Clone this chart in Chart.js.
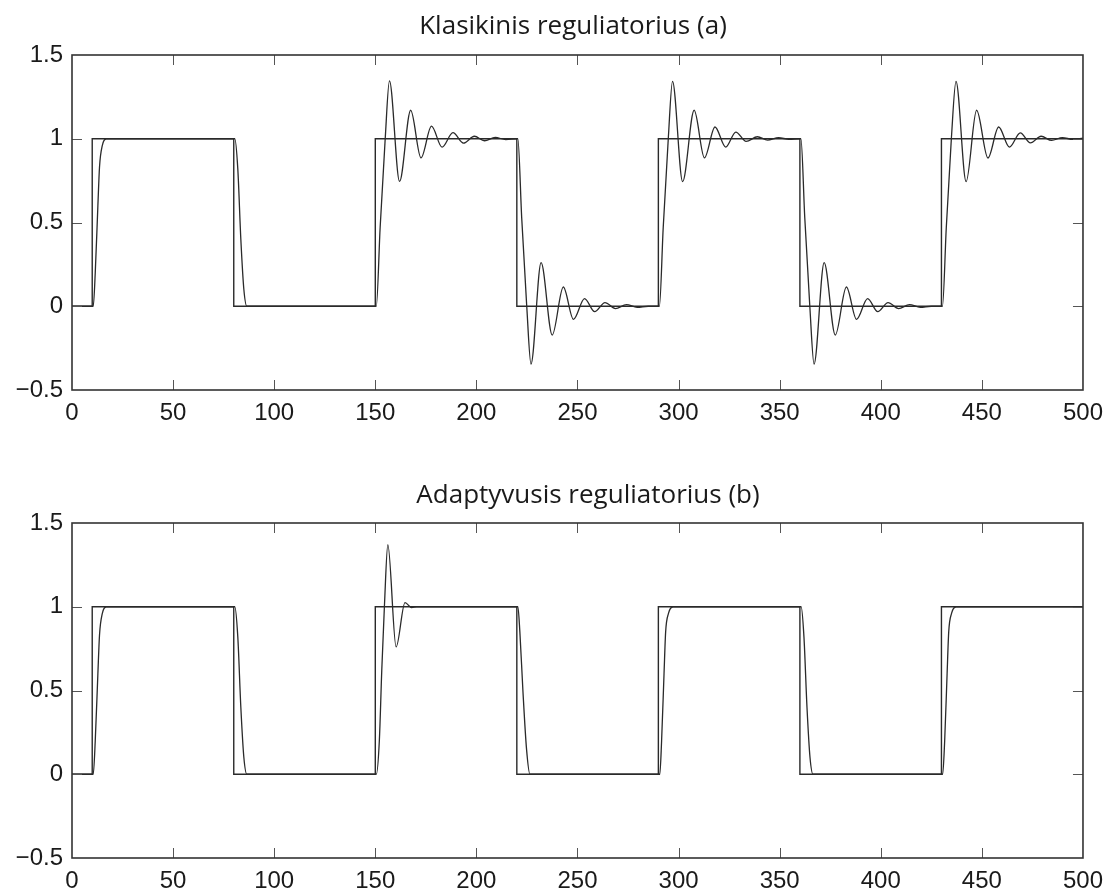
<!DOCTYPE html>
<html>
<head>
<meta charset="utf-8">
<script src="https://cdn.jsdelivr.net/npm/chart.js@4.4.0/dist/chart.umd.min.js"></script>
<style>
  body { margin: 0; background: #fff; }
  canvas { position: absolute; left: 0; }
  #chartA { top: 0; }
  #chartB { top: 445px; }
</style>
</head>
<body>
<canvas id="chartA" width="1112" height="445"></canvas>
<canvas id="chartB" width="1112" height="446"></canvas>
<script>
// reference (setpoint) square wave: switch times and level after each switch
const stepTimes = [0, 10, 80, 150, 220, 290, 360, 430, 500];
const stepLevels = [0, 1, 0, 1, 0, 1, 0, 1, 1];

// classic controller response (a)
const classicT = [
  0, 10.5, 11.5, 12.8, 13.6, 15, 17, 80.5,
  82, 83.5, 85, 86.5, 150.5,
  152.4, 154.9, 157, 162, 167.5, 172.6, 177.8, 183, 188.4, 193.6, 199, 204, 209.3, 214.5, 220.5,
  222.4, 224.9, 227, 232, 237.5, 243, 248, 253.5, 258.5, 263.6, 268.8, 274.2, 279.5, 285, 290.5,
  292.4, 294.9, 297, 302, 307.7, 312.8, 318, 323.3, 328.3, 333.4, 339, 344, 349.5, 354.5, 360.5,
  362.4, 364.9, 367, 372, 377.5, 383, 388, 393.5, 398.5, 403.6, 408.8, 414.2, 419.5, 425, 430.5,
  432.4, 434.9, 437.2, 442.2, 447.4, 453, 458.3, 463.6, 469, 474, 479.3, 484.5, 489.8, 495, 500
];
const classicY = [
  0, 0, 0.2, 0.6, 0.83, 0.96, 1, 1,
  0.82, 0.4, 0.1, 0, 0,
  0.47, 1.0, 1.345, 0.745, 1.17, 0.886, 1.075, 0.95, 1.036, 0.974, 1.015, 0.988, 1.008, 0.995, 1,
  0.53, 0, -0.345, 0.26, -0.172, 0.115, -0.078, 0.046, -0.032, 0.022, -0.014, 0.01, -0.006, 0, 0,
  0.47, 1.0, 1.343, 0.744, 1.17, 0.886, 1.07, 0.95, 1.04, 0.984, 1.012, 0.992, 1.006, 0.997, 1,
  0.53, 0, -0.345, 0.26, -0.172, 0.115, -0.078, 0.046, -0.032, 0.022, -0.014, 0.01, -0.006, 0, 0,
  0.47, 1.0, 1.343, 0.744, 1.17, 0.885, 1.07, 0.95, 1.035, 0.975, 1.015, 0.99, 1.007, 0.996, 1.003
];

// adaptive controller response (b)
const adaptiveT = [
  0, 10.5, 11.5, 12.8, 13.6, 15, 17, 80.5,
  82, 83.5, 85, 86.5, 150.5,
  152, 153.2, 154.5, 156.2, 160.3, 164.7, 168, 170.5, 220.5,
  221.5, 223, 224.8, 226.5, 290.7,
  291.6, 292.8, 293.6, 295, 297.3, 360.6,
  362, 363.5, 365, 366.5, 430.6,
  431.6, 432.8, 433.6, 435, 437.3, 500
];
const adaptiveY = [
  0, 0, 0.2, 0.6, 0.83, 0.96, 1, 1,
  0.82, 0.4, 0.1, 0, 0,
  0.2, 0.62, 1.0, 1.37, 0.76, 1.025, 0.995, 1, 1,
  0.85, 0.5, 0.15, 0, 0,
  0.2, 0.6, 0.85, 0.96, 1, 1,
  0.82, 0.4, 0.1, 0, 0,
  0.2, 0.6, 0.85, 0.96, 1, 1
];

const xTicks = [0, 50, 100, 150, 200, 250, 300, 350, 400, 450, 500];
const yTicks = [-0.5, 0, 0.5, 1, 1.5];

function toPoints(xs, ys) {
  return xs.map((x, i) => ({ x: x, y: ys[i] }));
}

// matlab style box with ticks pointing inward + title
const boxPlugin = {
  id: 'box',
  afterDraw(chart, args, opts) {
    const ctx = chart.ctx;
    const a = chart.chartArea;
    const sx = chart.scales.x;
    const sy = chart.scales.y;
    const len = 10;
    ctx.save();
    ctx.strokeStyle = '#555';
    ctx.lineWidth = 1;
    ctx.beginPath();
    xTicks.forEach(v => {
      const px = Math.round(sx.getPixelForValue(v)) + 0.5;
      if (v === xTicks[0] || v === xTicks[xTicks.length - 1]) return;
      ctx.moveTo(px, a.bottom); ctx.lineTo(px, a.bottom - len);
      ctx.moveTo(px, a.top); ctx.lineTo(px, a.top + len);
    });
    yTicks.forEach(v => {
      const py = Math.round(sy.getPixelForValue(v)) + 0.5;
      if (v === yTicks[0] || v === yTicks[yTicks.length - 1]) return;
      ctx.moveTo(a.left, py); ctx.lineTo(a.left + len, py);
      ctx.moveTo(a.right, py); ctx.lineTo(a.right - len, py);
    });
    ctx.stroke();

    ctx.strokeStyle = '#333';
    ctx.lineWidth = 1.6;
    ctx.strokeRect(a.left, a.top, a.right - a.left, a.bottom - a.top);

    ctx.fillStyle = '#1a1a1a';
    ctx.font = '26px "Open Sans"';
    ctx.textAlign = 'center';
    ctx.textBaseline = 'middle';
    ctx.fillText(opts.text, opts.x, opts.y);
    ctx.restore();
  }
};

function makeChart(id, respT, respY, title, topPad, xHeight, titleX, titleY) {
  const ctx = document.getElementById(id).getContext('2d');
  return new Chart(ctx, {
    type: 'line',
    data: {
      datasets: [
        {
          data: toPoints(stepTimes, stepLevels),
          stepped: 'before',
          borderColor: '#2a2a2a',
          borderWidth: 1.4,
          pointRadius: 0,
          fill: false
        },
        {
          data: toPoints(respT, respY),
          cubicInterpolationMode: 'monotone',
          borderColor: '#2a2a2a',
          borderWidth: 1.3,
          pointRadius: 0,
          fill: false
        }
      ]
    },
    options: {
      responsive: false,
      animation: false,
      events: [],
      layout: { padding: { top: topPad, right: 24, left: 0, bottom: 0 } },
      plugins: {
        legend: { display: false },
        tooltip: { enabled: false },
        box: { text: title, x: titleX, y: titleY }
      },
      scales: {
        x: {
          type: 'linear',
          min: 0,
          max: 500,
          grid: { display: false, drawTicks: false },
          border: { display: false },
          afterBuildTicks: s => { s.ticks = xTicks.map(v => ({ value: v })); },
          afterFit: s => { s.height = xHeight; },
          ticks: {
            padding: 9,
            maxRotation: 0,
            autoSkip: false,
            color: '#1a1a1a',
            font: { family: '"Liberation Sans", Arial, sans-serif', size: 24 }
          }
        },
        y: {
          min: -0.5,
          max: 1.5,
          grid: { display: false, drawTicks: false },
          border: { display: false },
          afterBuildTicks: s => { s.ticks = yTicks.map(v => ({ value: v })); },
          afterFit: s => { s.width = 72; },
          ticks: {
            padding: 9,
            color: '#1a1a1a',
            font: { family: '"Liberation Sans", Arial, sans-serif', size: 24 },
            callback: v => v < 0 ? '\u2212' + Math.abs(v) : String(v)
          }
        }
      }
    },
    plugins: [boxPlugin]
  });
}

makeChart('chartA', classicT, classicY, 'Klasikinis reguliatorius (a)', 55, 55, 573, 27);
makeChart('chartB', adaptiveT, adaptiveY, 'Adaptyvusis reguliatorius (b)', 78, 33, 588, 51);
</script>
</body>
</html>
